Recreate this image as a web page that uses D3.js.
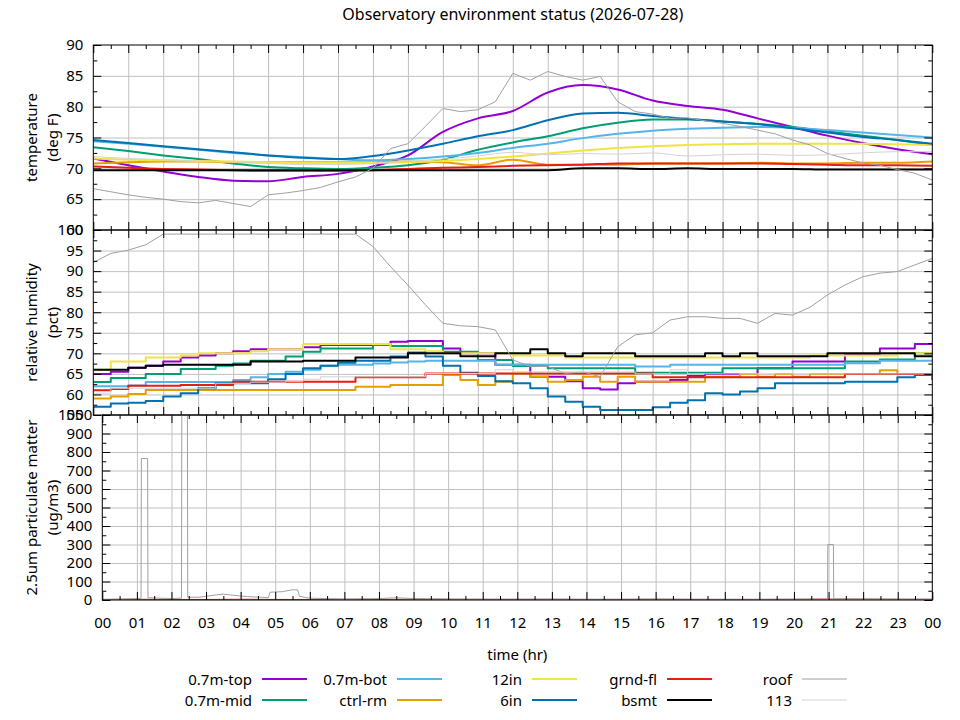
<!DOCTYPE html>
<html>
<head>
<meta charset="utf-8">
<script src="https://cdn.jsdelivr.net/npm/d3@7/dist/d3.min.js"></script>
<style>
    body { margin: 0; background: #fff; }
    text { font-family: "Noto Sans", sans-serif; fill: #000; }
    .tick line { stroke: #000; }
    .grid .tick line { stroke: #c0c0c0; stroke-width: 1; }
    .domain { display: none; }
</style>
</head>
<body>
<script>
// time points
var hours = [0, 1, 2, 3, 4, 5, 6, 7, 8, 9, 10, 11, 12, 13, 14, 15, 16, 17, 18, 19, 20, 21, 22, 23, 24];
var halfHours = [0, 0.5, 1, 1.5, 2, 2.5, 3, 3.5, 4, 4.5, 5, 5.5, 6, 6.5, 7, 7.5, 8, 8.5, 9, 9.5,
    10, 10.5, 11, 11.5, 12, 12.5, 13, 13.5, 14, 14.5, 15, 15.5, 16, 16.5, 17, 17.5, 18, 18.5, 19, 19.5,
    20, 20.5, 21, 21.5, 22, 22.5, 23, 23.5, 24];
var hourLabels = ["00", "01", "02", "03", "04", "05", "06", "07", "08", "09", "10", "11", "12",
    "13", "14", "15", "16", "17", "18", "19", "20", "21", "22", "23", "00"];

// sensors
var seriesNames = ["0.7m-top", "0.7m-mid", "0.7m-bot", "ctrl-rm", "12in", "6in", "grnd-fl", "bsmt", "roof", "113"];
var seriesColors = ["#9400d3", "#009e73", "#56b4e9", "#e69f00", "#f0e442", "#0072b2", "#e51e10", "#000000", "#a0a0a0", "#d3d3d3"];
var seriesWidths = [2, 2, 2, 2, 2, 2, 2, 2, 1, 1];

// tick labels
var tempTicks = [60, 65, 70, 75, 80, 85, 90];
var humTicks = [55, 60, 65, 70, 75, 80, 85, 90, 95, 100];
var pmTicks = [0, 100, 200, 300, 400, 500, 600, 700, 800, 900, 1000];

// temperature (deg F), hourly
var tempTop = [71.6, 70.5, 69.5, 68.6, 68.0, 67.9, 68.6, 69.1, 70.3, 72.1, 75.9, 78.1, 79.3, 82.3, 83.5, 82.8, 81.0, 80.1, 79.5, 78.1, 76.7, 75.3, 74.1, 73.1, 72.3];
var tempMid = [73.4, 72.8, 72.1, 71.5, 70.8, 70.2, 70.0, 69.9, 70.1, 70.5, 71.4, 73.0, 74.2, 75.2, 76.5, 77.4, 77.9, 77.9, 77.6, 77.2, 76.7, 76.0, 75.3, 74.6, 73.8];
var tempBot = [74.4, 74.0, 73.5, 73.0, 72.5, 72.1, 71.8, 71.5, 71.3, 71.5, 71.9, 72.5, 73.3, 74.0, 74.9, 75.6, 76.1, 76.4, 76.6, 76.7, 76.6, 76.2, 75.8, 75.4, 75.0];
var tempCtrl = [70.8, 71.0, 71.1, 71.1, 71.0, 71.0, 71.0, 71.0, 71.0, 71.1, 71.0, 70.5, 71.4, 70.6, 70.6, 70.6, 70.8, 70.8, 70.8, 70.9, 70.8, 70.8, 70.9, 70.9, 71.1];
var temp12in = [71.6, 71.4, 71.3, 71.2, 71.1, 71.0, 70.9, 70.9, 70.9, 71.0, 71.2, 71.5, 71.9, 72.4, 72.9, 73.3, 73.6, 73.8, 73.9, 74.0, 74.0, 74.0, 74.0, 73.9, 73.8];
var temp6in = [74.6, 74.1, 73.6, 73.1, 72.6, 72.1, 71.7, 71.5, 72.0, 72.9, 74.0, 75.2, 76.2, 77.8, 78.9, 79.0, 78.5, 78.0, 77.6, 77.2, 76.5, 75.8, 75.1, 74.6, 74.0];
var tempGrnd = [70.3, 70.1, 69.9, 69.8, 69.7, 69.6, 69.6, 69.6, 69.7, 69.9, 70.1, 70.2, 70.4, 70.5, 70.6, 70.8, 70.8, 70.8, 70.8, 70.8, 70.7, 70.6, 70.5, 70.5, 70.4];
var tempBsmt = [69.7, 69.7, 69.7, 69.7, 69.7, 69.7, 69.7, 69.7, 69.7, 69.7, 69.7, 69.7, 69.7, 69.7, 70.0, 70.0, 69.9, 70.0, 69.9, 69.9, 69.9, 69.8, 69.8, 69.8, 69.8];
var temp113 = [71.9, 71.6, 71.4, 71.2, 71.0, 70.8, 70.6, 70.6, 70.8, 71.2, 71.5, 72.0, 72.6, 72.2, 72.4, 72.3, 72.5, 72.0, 72.2, 72.3, 72.1, 72.2, 72.5, 72.7, 72.7];
// roof temperature, half-hourly
var tempRoof = [66.7, 66.2, 65.7, 65.3, 65.0, 64.6, 64.4, 64.8, 64.3, 63.8,
    65.7, 66.0, 66.4, 66.9, 67.8, 68.6, 70.0, 73.2, 74.0, 76.8,
    79.7, 79.2, 79.5, 80.8, 85.4, 84.3, 85.7, 84.9, 84.3, 84.9,
    80.8, 79.2, 78.8, 78.1, 78.2, 77.7, 77.3, 76.8, 76.2, 75.6,
    74.6, 73.8, 72.4, 71.6, 70.9, 70.5, 69.8, 69.2, 68.1];

// relative humidity (pct), half-hourly
var humTop = [65, 65.5, 66.5, 67, 68, 69, 69.5, 70, 70.5, 71,
    71, 71, 71.5, 72, 72, 72, 72, 72.8, 73, 73,
    71.2, 70, 70, 67.2, 67.2, 64.3, 64.3, 63.2, 61.5, 61.2,
    62.7, 63.1, 63.1, 63.5, 64.5, 65, 65, 65, 66.4, 66.4,
    68, 68, 68, 69.6, 69.6, 71.2, 71.2, 72.3, 72.3];
var humMid = [63, 64, 64, 65, 65, 66.2, 66.2, 67, 67.5, 68.2,
    68.2, 69.2, 70.4, 71.2, 71.2, 71.2, 72, 71.8, 71.8, 71.8,
    70.4, 70.4, 68.4, 68.4, 66.9, 66.9, 66.4, 66.4, 66.4, 66.4,
    66.4, 65.3, 65.3, 65.3, 65.3, 65.3, 66.4, 66.4, 66.4, 66.4,
    66.4, 66.4, 66.4, 68, 68, 68.5, 68.5, 70, 70];
var humBot = [62, 62, 62.2, 63, 63, 63, 63, 63, 63.5, 64.2,
    65, 65.5, 66, 67, 67.2, 67.2, 67.5, 67.8, 68, 68.2,
    68.2, 68.2, 68.2, 67.2, 67.2, 67.2, 67.2, 67.2, 67.2, 67.2,
    67.2, 66.8, 66.8, 67.2, 67.2, 67.2, 67.2, 67.2, 67.2, 67.2,
    67.2, 67.2, 67.2, 67.6, 67.6, 68.2, 68.2, 68.2, 68.2];
var humCtrl = [59, 59.5, 60.1, 61.1, 61.1, 61.1, 61.1, 61.1, 61.1, 61.1,
    61.1, 61.1, 61.1, 61.1, 61.1, 61.9, 61.9, 62.3, 62.3, 62.3,
    64.7, 63.5, 62.3, 63.1, 65.1, 64.3, 63.1, 63.5, 64.3, 63.1,
    64.3, 63.1, 63.1, 63.1, 63.1, 64.3, 64.3, 65, 64.3, 65,
    64.3, 65, 65, 65, 65, 65.9, 65, 65, 66];
var hum12in = [66, 68, 68, 69, 69, 69.5, 70, 70, 70, 70.5,
    71, 71, 72.3, 72.3, 72.3, 72.3, 72.3, 71, 71, 70.5,
    70, 70, 70, 70, 69.5, 69.5, 69.5, 69, 69, 69,
    69, 69, 69, 69, 69, 69, 69, 69, 69, 69,
    69, 69.5, 69.5, 69.5, 69.5, 69.5, 70, 70, 70];
var hum6in = [57, 57.8, 58, 58.4, 59.5, 60.3, 61.5, 62.7, 62.7, 62.7,
    63.7, 65, 66.4, 67, 67.7, 68.2, 68.2, 69.2, 70.2, 69.2,
    67, 65.3, 64.5, 63.2, 62.7, 61.5, 59.5, 58.2, 57, 56.2,
    56.2, 56.2, 56.9, 58, 58.6, 60.3, 60, 60.7, 61.5, 62.7,
    62.7, 62.7, 62.7, 63.1, 63.1, 63.1, 64.2, 64.7, 63.5];
var humGrnd = [61, 61.3, 62.1, 62.1, 62.1, 62.3, 62.3, 62.3, 63.1, 63.1,
    63.1, 63.1, 63.1, 63.1, 63.1, 64.2, 64.2, 64.2, 64.2, 65.1,
    65.1, 65.1, 65.1, 65.1, 65.1, 65.1, 65.1, 65.1, 65.1, 65.1,
    65.1, 65.1, 64.2, 64.2, 64.2, 64.2, 64.2, 64.2, 64.2, 64.2,
    64.2, 64.2, 64.2, 65, 65, 65, 65, 65, 65];
var humBsmt = [66, 66, 66.5, 67, 67.2, 67.2, 67.2, 67.2, 67.2, 68,
    68, 68, 68.2, 68.2, 68.2, 69, 69, 69, 70, 70,
    70, 69.3, 69.3, 70, 70, 71, 70, 69.3, 70, 70,
    70, 69.3, 69.3, 69.3, 69.3, 70, 69.3, 70, 69.3, 69.3,
    69.3, 69.3, 70, 70, 70, 70, 70, 69.3, 69.3];
var humRoof = [92.1, 94.3, 95.1, 96.4, 99, 99, 99, 99, 99, 99,
    99, 99, 99, 99, 99, 99, 96, 91.1, 86.6, 81.8,
    77.3, 76.7, 76.5, 75.7, 68.4, 66.8, 66.8, 65.1, 65.5, 64.3,
    71.6, 74.5, 75, 78.1, 78.9, 78.9, 78.5, 78.5, 77.3, 79.7,
    79.3, 81.2, 84.2, 86.6, 88.6, 89.5, 89.9, 91.5, 93.1];
var hum113 = [60.3, 61.5, 61.5, 61.5, 61.5, 61.5, 61.5, 62.7, 62.7, 63,
    63, 63.2, 63.7, 64.3, 64.3, 64.3, 64.3, 64.3, 64.3, 65.1,
    65.1, 65.1, 65.1, 66, 65.5, 65.5, 65.5, 65.5, 65.5, 65.5,
    65.5, 65, 65, 66, 65, 65, 65, 65, 65, 65,
    65, 65, 65, 65, 65, 65, 65, 65, 65];

// 2.5um particulate matter (ug/m3)
var pmRoofHours = [0, 0.5, 1.0, 1.12, 1.13, 1.31, 1.32, 1.6, 2.0, 2.29,
    2.30, 2.46, 2.47, 2.8, 3.0, 3.3, 3.5, 3.8, 4.2, 4.6,
    4.8, 4.85, 5.2, 5.5, 5.65, 5.7, 6.0, 7.0, 8.0, 8.5,
    9.0, 10, 12, 14, 16, 18, 20, 20.97, 20.98, 21.14,
    21.15, 22, 23, 24];
var pmRoof = [3, 5, 8, 10, 765, 765, 12, 10, 8, 10,
    1100, 1100, 15, 15, 20, 28, 32, 25, 18, 15,
    12, 42, 45, 55, 55, 20, 10, 5, 8, 12,
    8, 5, 5, 4, 5, 4, 4, 5, 300, 300,
    6, 5, 5, 4];
var pmGrnd = [3, 4, 3, 3, 4, 3, 3, 4, 3, 4, 4, 3, 3, 4, 3, 3, 4, 3, 3, 3, 4, 5, 5, 4, 4];

(function() {
    // layout settings
    var settings = {
        width: 960,
        height: 720,
        right: 932.3,
        major: 8,
        minor: 4,
        fontSize: 15
    };

    var curveTemp = d3.curveMonotoneX;
    var curveStep = d3.curveStepAfter;

    // panels, top to bottom
    var panels = [
        {
            id: "temp", top: 45, bottom: 230, left: 93.3,
            domain: [60, 90], ticks: tempTicks, minorStep: 2.5,
            label: ["temperature", "(deg F)"],
            series: [
                { x: hours, y: tempTop, s: 0, curve: curveTemp },
                { x: hours, y: tempMid, s: 1, curve: curveTemp },
                { x: hours, y: tempBot, s: 2, curve: curveTemp },
                { x: hours, y: tempCtrl, s: 3, curve: curveTemp },
                { x: hours, y: temp12in, s: 4, curve: curveTemp },
                { x: hours, y: temp6in, s: 5, curve: curveTemp },
                { x: hours, y: tempGrnd, s: 6, curve: curveTemp },
                { x: hours, y: tempBsmt, s: 7, curve: curveTemp },
                { x: halfHours, y: tempRoof, s: 8, curve: d3.curveLinear },
                { x: hours, y: temp113, s: 9, curve: curveTemp }
            ]
        },
        {
            id: "hum", top: 230, bottom: 415, left: 93.3,
            domain: [55, 100], ticks: humTicks, minorStep: 2.5,
            label: ["relative humidity", "(pct)"],
            series: [
                { x: halfHours, y: humTop, s: 0, curve: curveStep },
                { x: halfHours, y: humMid, s: 1, curve: curveStep },
                { x: halfHours, y: humBot, s: 2, curve: curveStep },
                { x: halfHours, y: humCtrl, s: 3, curve: curveStep },
                { x: halfHours, y: hum12in, s: 4, curve: curveStep },
                { x: halfHours, y: hum6in, s: 5, curve: curveStep },
                { x: halfHours, y: humGrnd, s: 6, curve: curveStep },
                { x: halfHours, y: humBsmt, s: 7, curve: curveStep },
                { x: halfHours, y: humRoof, s: 8, curve: d3.curveLinear },
                { x: halfHours, y: hum113, s: 9, curve: curveStep }
            ]
        },
        {
            id: "pm", top: 415, bottom: 600, left: 102.3,
            domain: [0, 1000], ticks: pmTicks, minorStep: 50,
            label: ["2.5um particulate matter", "(ug/m3)"],
            xLabels: true,
            series: [
                { x: hours, y: pmGrnd, s: 6, curve: d3.curveLinear, width: 1 },
                { x: pmRoofHours, y: pmRoof, s: 8, curve: d3.curveLinear }
            ]
        }
    ];

    // add svg
    var svg = d3.select("body").append("svg")
        .attr("width", settings.width)
        .attr("height", settings.height);

    svg.append("rect")
        .attr("width", settings.width)
        .attr("height", settings.height)
        .attr("fill", "#fff");

    // title
    svg.append("text")
        .attr("x", (93.3 + settings.right) / 2)
        .attr("y", 20)
        .attr("text-anchor", "middle")
        .attr("font-size", 16)
        .text("Observatory environment status (2026-07-28)");

    panels.forEach(drawPanel);

    // x axis title
    svg.append("text")
        .attr("x", (102.3 + settings.right) / 2)
        .attr("y", 660)
        .attr("text-anchor", "middle")
        .attr("font-size", settings.fontSize)
        .text("time (hr)");

    drawLegend();

    function drawPanel(p) {
        var w = settings.right - p.left;
        var h = p.bottom - p.top;
        var x = d3.scaleLinear().domain([0, 24]).range([p.left, settings.right]);
        var y = d3.scaleLinear().domain(p.domain).range([p.bottom, p.top]);
        var g = svg.append("g").classed("panel", true);

        var minorX = halfHours.filter(function(d) { return d % 1 !== 0; });
        var minorY = d3.range(p.domain[0] + p.minorStep, p.domain[1], p.minorStep)
            .filter(function(d) { return p.ticks.indexOf(d) === -1; });

        // clip area
        svg.append("clipPath")
            .attr("id", "clip-" + p.id)
            .append("rect")
                .attr("x", p.left)
                .attr("y", p.top)
                .attr("width", w)
                .attr("height", h);

        // grid
        g.append("g")
            .classed("grid", true)
            .attr("transform", "translate(0," + p.bottom + ")")
            .call(d3.axisBottom(x).tickValues(hours.slice(1, -1)).tickSize(-h).tickFormat(""));
        g.append("g")
            .classed("grid", true)
            .attr("transform", "translate(" + p.left + ",0)")
            .call(d3.axisLeft(y).tickValues(p.ticks.slice(1, -1)).tickSize(-w).tickFormat(""));

        // data lines
        var lines = g.append("g").attr("clip-path", "url(#clip-" + p.id + ")");
        p.series.forEach(function(d) {
            var line = d3.line()
                .x(function(v, i) { return x(d.x[i]); })
                .y(function(v) { return y(v); })
                .curve(d.curve);
            lines.append("path")
                .attr("d", line(d.y))
                .attr("fill", "none")
                .attr("stroke", seriesColors[d.s])
                .attr("stroke-width", d.width || seriesWidths[d.s])
                .attr("stroke-linejoin", "round");
        });

        // ticks on all four sides, pointing in
        var axes = [
            { axis: d3.axisBottom, scale: x, at: "translate(0," + p.bottom + ")", major: hours, minor: minorX },
            { axis: d3.axisTop, scale: x, at: "translate(0," + p.top + ")", major: hours, minor: minorX },
            { axis: d3.axisLeft, scale: y, at: "translate(" + p.left + ",0)", major: p.ticks, minor: minorY },
            { axis: d3.axisRight, scale: y, at: "translate(" + settings.right + ",0)", major: p.ticks, minor: minorY }
        ];
        axes.forEach(function(a, k) {
            g.append("g")
                .attr("transform", a.at)
                .call(a.axis(a.scale).tickValues(a.minor).tickSizeInner(-settings.minor).tickSizeOuter(0).tickFormat(""));
            var major = a.axis(a.scale).tickValues(a.major).tickSizeInner(-settings.major).tickSizeOuter(0);
            if (k === 2) {
                major.tickPadding(10).tickFormat(d3.format("d"));
            } else if (k === 0 && p.xLabels) {
                major.tickPadding(17).tickFormat(function(d, i) { return hourLabels[i]; });
            } else {
                major.tickFormat("");
            }
            var ag = g.append("g")
                .attr("transform", a.at)
                .call(major);
            ag.attr("font-family", null).attr("font-size", settings.fontSize);
        });

        // border
        g.append("rect")
            .attr("x", p.left)
            .attr("y", p.top)
            .attr("width", w)
            .attr("height", h)
            .attr("fill", "none")
            .attr("stroke", "#000")
            .attr("stroke-width", 1);

        // y axis title, two lines
        var cy = (p.top + p.bottom) / 2;
        p.label.forEach(function(t, i) {
            svg.append("text")
                .attr("transform", "translate(" + (31 + i * 21) + "," + cy + ") rotate(-90)")
                .attr("text-anchor", "middle")
                .attr("dominant-baseline", "central")
                .attr("font-size", settings.fontSize)
                .text(t);
        });
    }

    function drawLegend() {
        var legend = svg.append("g").classed("legend", true);
        seriesNames.forEach(function(name, i) {
            var col = Math.floor(i / 2);
            var row = i % 2;
            var lx = 252 + col * 135;
            var ly = 679 + row * 21;
            legend.append("text")
                .attr("x", lx)
                .attr("y", ly)
                .attr("text-anchor", "end")
                .attr("dominant-baseline", "central")
                .attr("font-size", settings.fontSize)
                .text(name);
            legend.append("line")
                .attr("x1", lx + 10)
                .attr("x2", lx + 55)
                .attr("y1", ly)
                .attr("y2", ly)
                .attr("stroke", seriesColors[i])
                .attr("stroke-width", seriesWidths[i]);
        });
    }
})();
</script>
</body>
</html>
